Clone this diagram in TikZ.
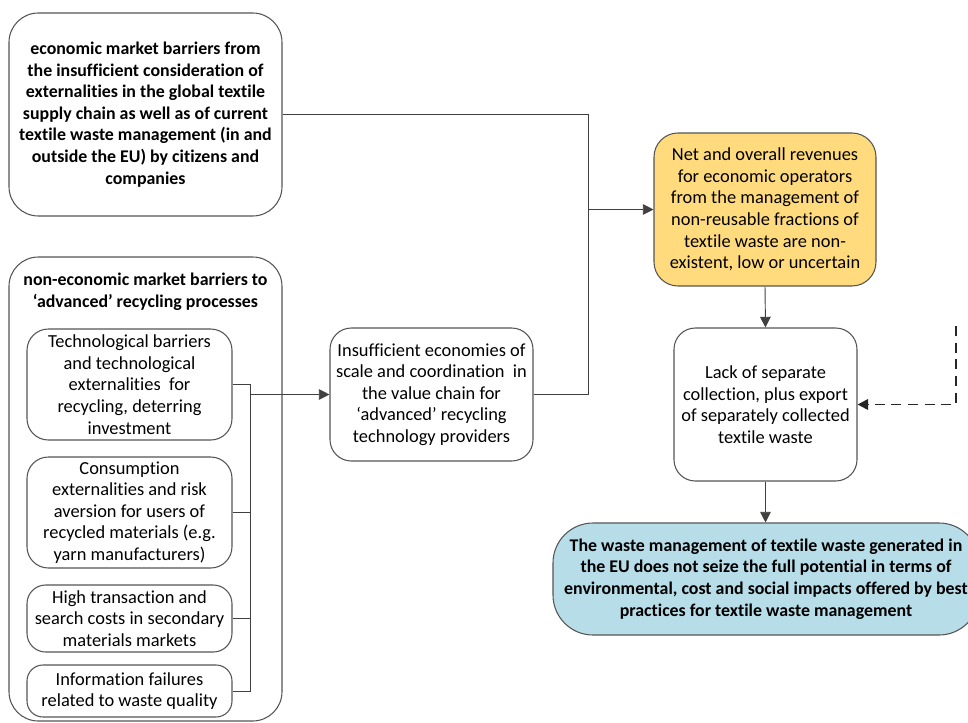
\documentclass[tikz,border=0pt]{standalone}
\usepackage{fontspec}
\setmainfont[Ligatures=NoCommon]{Carlito}
\usetikzlibrary{arrows.meta}
\definecolor{revfill}{HTML}{FFDB7E}
\definecolor{wastefill}{HTML}{B7DDE8}
\definecolor{edgegray}{HTML}{555555}
\definecolor{linegray}{HTML}{404040}
\newcommand{\boxfont}{\fontsize{13.8}{16.2}\selectfont}
\newcommand{\headfont}{\fontsize{13.4}{16.2}\selectfont\bfseries}
\begin{document}
\begin{tikzpicture}[x=0.75pt,y=-0.75pt,
  box/.style={draw=edgegray, line width=0.8pt, align=center, inner sep=0pt,
    font=\boxfont, text=black},
  conn/.style={draw=linegray, line width=0.7pt},
  arr/.style={conn, -{Triangle[length=8pt,width=8pt]}},
  dasharr/.style={draw=black!85, line width=1.4pt, dash pattern=on 7.5pt off 5pt,
    -{Triangle[length=8pt,width=8pt]}}
]
\useasboundingbox (0,0) rectangle (968,722);

% barrier boxes on the left
\node[box, rounded corners=22pt, minimum width=273*0.75pt, minimum height=203*0.75pt,
  font=\headfont] (econ) at (145.5,114.5)
  {economic market barriers from\\the insufficient consideration of\\externalities in the global textile\\supply chain as well as of current\\textile waste management (in and\\outside the EU) by citizens and\\companies};

\node[box, rounded corners=22pt, minimum width=273*0.75pt, minimum height=464*0.75pt] (nonecon) at (145.5,489) {};
\node[box, draw=none, font=\headfont] (title) at (145.5,292)
  {non-economic market barriers to\\‘advanced’ recycling processes};

\node[box, rounded corners=16pt, minimum width=205*0.75pt, minimum height=111*0.75pt] (tech) at (129.5,384.5)
  {Technological barriers\\and technological\\externalities\ \ for\\recycling, deterring\\investment};
\node[box, rounded corners=16pt, minimum width=205*0.75pt, minimum height=111*0.75pt] (cons) at (129.5,512.5)
  {Consumption\\externalities and risk\\aversion for users of\\recycled materials (e.g.\\yarn manufacturers)};
\node[box, rounded corners=14pt, minimum width=205*0.75pt, minimum height=67*0.75pt] (trans) at (129.5,618.5)
  {High transaction and\\search costs in secondary\\materials markets};
\node[box, rounded corners=12pt, minimum width=205*0.75pt, minimum height=52*0.75pt] (info) at (129.5,691)
  {Information failures\\related to waste quality};

% middle box
\node[box, rounded corners=16pt, minimum width=203*0.75pt, minimum height=133*0.75pt] (scale) at (431.5,394.5)
  {Insufficient economies of\\scale and coordination\ \ in\\the value chain for\\‘advanced’ recycling\\technology providers};

% right column
\node[box, fill=revfill, rounded corners=18pt, minimum width=222*0.75pt, minimum height=153*0.75pt] (rev) at (765,209.5)
  {Net and overall revenues\\for economic operators\\from the management of\\non-reusable fractions of\\textile waste are non-\\existent, low or uncertain};
\node[box, rounded corners=16pt, minimum width=183*0.75pt, minimum height=153*0.75pt] (lack) at (765.5,404.5)
  {Lack of separate\\collection, plus export\\of separately collected\\textile waste};
\node[box, fill=wastefill, rounded corners=30pt, minimum width=426*0.75pt, minimum height=112*0.75pt,
  font=\headfont] (waste) at (766,579)
  {The waste management of textile waste generated in\\the EU does not seize the full potential in terms of\\environmental, cost and social impacts offered by best\\practices for textile waste management};

% bus collecting the non-economic barriers
\coordinate (bus) at (250,394.5);
\draw[conn] (tech.east) -- (tech.east -| bus) -- (info.east -| bus) -- (info.east);
\draw[conn] (cons.east) -- (cons.east -| bus);
\draw[conn] (trans.east) -- (trans.east -| bus);
\draw[arr] (bus) -- (scale.west);

% junction feeding the revenue box
\coordinate (join) at (588,209.5);
\draw[conn] (scale.east) -- (scale.east -| join) -- (join |- econ.east) -- (econ.east);
\draw[arr] (join) -- (rev.west);

\draw[arr] (rev.south) -- (lack.north);
\draw[arr] (lack.south) -- (lack.south |- waste.north);

% dashed incoming arrow
\coordinate (dtop) at (956,326);
\draw[dasharr] (dtop) -- (dtop |- lack.east) -- (lack.east);
\end{tikzpicture}
\end{document}
